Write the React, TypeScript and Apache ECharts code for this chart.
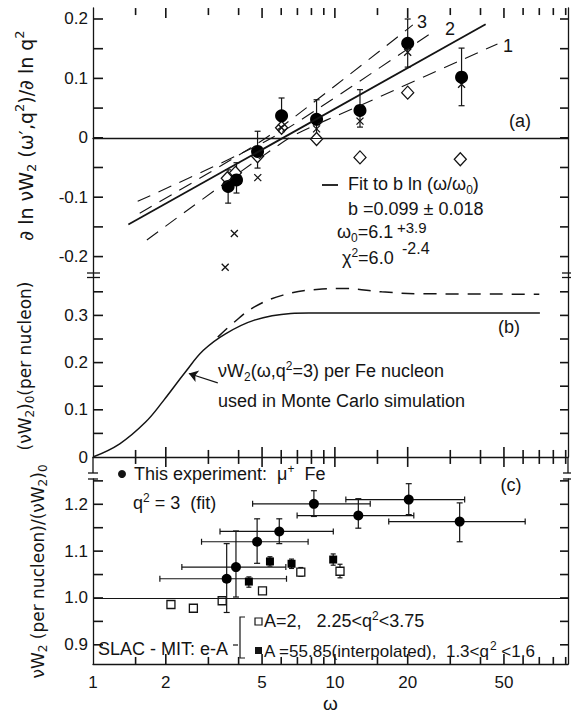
import React, { useEffect, useRef } from 'react';
import * as echarts from 'echarts';

// ---------------- data ----------------
const xTickLabels = [1, 2, 5, 10, 20, 50];
const xMajorTicks = [2, 5, 10, 20, 50];
const xMinorTicks = [1.5, 3, 4, 6, 7, 8, 9, 15, 30, 40, 60, 70, 80, 90];

const yTicksA = [-0.2, -0.15, -0.1, -0.05, 0, 0.05, 0.1, 0.15, 0.2];
const yLabelsA = [-0.2, -0.1, 0, 0.1, 0.2];
const yTicksB = [0.05, 0.1, 0.15, 0.2, 0.25, 0.3, 0.35];
const yLabelsB = [0, 0.1, 0.2, 0.3];
const yTicksC = [0.9, 0.95, 1.0, 1.05, 1.1, 1.15, 1.2, 1.25];
const yLabelsC = [0.9, 1.0, 1.1, 1.2];

// panel (a): d ln nuW2 / d ln q2
const omegaA = [3.62, 3.92, 4.79, 6.02, 8.4, 12.7, 20.0, 33.4];
const slopeMu = [-0.082, -0.071, -0.023, 0.037, 0.031, 0.046, 0.159, 0.102];
const slopeMuLow = [-0.11, -0.093, -0.051, 0.01, 0.003, 0.018, 0.119, 0.054];
const slopeMuHigh = [-0.054, -0.042, 0.011, 0.067, 0.064, 0.081, 0.2, 0.151];
const omegaDiamond = [3.59, 3.88, 4.79, 6.02, 8.4, 12.7, 20.0, 33.0];
const slopeDiamond = [-0.068, -0.059, -0.031, 0.017, -0.002, -0.033, 0.076, -0.036];
const omegaCross = [3.52, 3.84, 4.8, 6.02, 8.4, 12.7, 20.0, 33.4];
const slopeCross = [-0.218, -0.161, -0.067, 0.017, 0.015, 0.028, 0.144, 0.09];
const fitOmega = [1.4, 42];
const fitSlope = [-0.146, 0.191];
const model1Omega = [1.67, 6.5, 13, 47];
const model1Slope = [-0.172, 0.0, 0.056, 0.158];
const model2Omega = [1.53, 5.5, 26];
const model2Slope = [-0.107, 0.0, 0.181];
const model3Omega = [1.56, 5.2, 21];
const model3Slope = [-0.127, 0.0, 0.19];

// panel (b): (nuW2)_0 per nucleon
const omegaMC = [1, 1.29, 1.65, 1.96, 2.41, 2.86, 3.53, 4.65, 6.57, 7.8, 70.4];
const nuW2MC = [0, 0.028, 0.074, 0.12, 0.18, 0.226, 0.261, 0.29, 0.304, 0.305, 0.305];
const omegaAlt = [3.28, 3.78, 4.65, 6.1, 8.4, 11, 15.6, 22, 70];
const nuW2Alt = [0.254, 0.283, 0.318, 0.343, 0.355, 0.357, 0.35, 0.346, 0.345];
const arrowFrom = [3.28, 0.157];
const arrowTo = [2.49, 0.177];

// panel (c): ratio
const omegaC = [3.57, 3.9, 4.77, 5.89, 8.19, 12.5, 20.2, 32.8];
const ratioC = [1.041, 1.066, 1.12, 1.142, 1.201, 1.176, 1.21, 1.163];
const ratioCLow = [0.969, 1.002, 1.074, 1.116, 1.174, 1.149, 1.178, 1.12];
const ratioCHigh = [1.116, 1.143, 1.169, 1.169, 1.229, 1.212, 1.244, 1.203];
const omegaCLow = [1.89, 2.33, 2.81, 3.35, 4.57, 6.98, 11.1, 16.7];
const omegaCHigh = [6.31, 6.27, 7.75, 9.85, 14.0, 21.2, 34.4, 61.2];
const omegaFe = [4.41, 5.39, 6.62, 9.84];
const ratioFe = [1.035, 1.078, 1.073, 1.082];
const ratioFeLow = [1.023, 1.068, 1.063, 1.07];
const ratioFeHigh = [1.045, 1.088, 1.083, 1.094];
const omegaD = [2.1, 2.6, 3.42, 5.02, 7.23, 10.5];
const ratioD = [0.986, 0.978, 0.994, 1.015, 1.055, 1.057];
const ratioDLow = [0.986, 0.978, 0.994, 1.015, 1.046, 1.043];
const ratioDHigh = [0.986, 0.978, 0.994, 1.015, 1.065, 1.072];

// ---------------- styling ----------------
const FONT = '"Liberation Sans", Arial, sans-serif';
const TFONT = '"DejaVu Sans", "Liberation Sans", sans-serif';
const INK = '#141414';
const X_MIN = 1;
const X_MAX = 92;
const LEFT = 93;
const WIDTH = 475;
const RANGE_A = [-0.231, 0.2185];
const RANGE_B = [0, 0.3856];
const RANGE_C = [0.859, 1.254];
const TICK_MAJ = 10;
const TICK_MIN = 7;
const TICK_W = 1.6;
const NUDGE = 1e-4;

const rich = (size: number, family = FONT) => ({
  sub: { fontSize: Math.round(size * 0.68), lineHeight: Math.round(size * 0.7), verticalAlign: 'bottom', fontFamily: family, color: INK, fill: INK },
  sup: { fontSize: Math.round(size * 0.68), lineHeight: Math.round(size * 0.7), verticalAlign: 'top', fontFamily: family, color: INK, fill: INK },
});

const txt = (x: number, y: number, text: string, size = 18, align = 'left', lh = 1.3) => ({
  type: 'text',
  x,
  y,
  silent: true,
  style: {
    text,
    fill: INK,
    fontSize: size,
    fontFamily: FONT,
    lineHeight: Math.round(size * lh),
    textAlign: align,
    textVerticalAlign: 'middle',
    verticalAlign: 'middle',
    rich: rich(size),
  },
});

const seg = (x1: number, y1: number, x2: number, y2: number, w = 1.3) => ({
  type: 'line',
  silent: true,
  z: 100,
  shape: { x1, y1, x2, y2 },
  style: { stroke: INK, lineWidth: w },
});

const logX = (gridIndex: number, position: string, showLine: boolean, labels: number[] | null = null, name = '') => ({
  type: 'log',
  logBase: 10,
  gridIndex,
  position,
  min: X_MIN,
  max: X_MAX,
  name,
  nameLocation: 'middle',
  nameGap: 30,
  nameTextStyle: { fontSize: 19, fontFamily: FONT, color: INK },
  axisLine: { show: showLine, lineStyle: { color: INK, width: 1.3 } },
  axisTick: { show: false },
  axisLabel: labels
    ? { show: true, customValues: labels, margin: 10, fontSize: 17, fontFamily: FONT, color: INK, formatter: (v: number) => String(Math.round(v)) }
    : { show: false },
  splitLine: { show: false },
  minorTick: { show: false },
  minorSplitLine: { show: false },
});

const fmtY = (v: number) => (Math.abs(v) < 1e-9 ? '0' : v.toFixed(1));

const valY = (gridIndex: number, position: string, range: number[], labels: number[] | null, name = '', nameGap = 0, nameSize = 17, pad: number[] = [0, 0, 0, 0]) => ({
  type: 'value',
  gridIndex,
  position,
  min: range[0],
  max: range[1],
  name,
  nameLocation: 'middle',
  nameRotate: 90,
  nameGap,
  nameTextStyle: { fontSize: nameSize, fontFamily: TFONT, color: INK, lineHeight: Math.round(nameSize * 1.3), padding: pad, rich: rich(nameSize, TFONT) },
  axisLine: { show: true, lineStyle: { color: INK, width: 1.3 } },
  axisTick: { show: false },
  axisLabel: labels
    ? { show: true, customValues: labels, margin: 5, fontSize: 17, fontFamily: FONT, color: INK, formatter: fmtY }
    : { show: false },
  splitLine: { show: false },
});

const errorBars = (cap: number) => (params: any, api: any) => {
  const x = api.value(0);
  const y = api.value(1);
  const ylo = api.value(2);
  const yhi = api.value(3);
  const xlo = api.value(4);
  const xhi = api.value(5);
  const style = { stroke: INK, lineWidth: 1.2, fill: 'none' };
  const children: any[] = [];
  if (yhi !== ylo) {
    const a = api.coord([x, ylo]);
    const b = api.coord([x, yhi]);
    children.push({ type: 'line', shape: { x1: a[0], y1: a[1], x2: b[0], y2: b[1] }, style });
    children.push({ type: 'line', shape: { x1: a[0] - cap, y1: a[1], x2: a[0] + cap, y2: a[1] }, style });
    children.push({ type: 'line', shape: { x1: b[0] - cap, y1: b[1], x2: b[0] + cap, y2: b[1] }, style });
  }
  if (xhi !== xlo) {
    const a = api.coord([xlo, y]);
    const b = api.coord([xhi, y]);
    children.push({ type: 'line', shape: { x1: a[0], y1: a[1], x2: b[0], y2: b[1] }, style });
    children.push({ type: 'line', shape: { x1: a[0], y1: a[1] - cap, x2: a[0], y2: a[1] + cap }, style });
    children.push({ type: 'line', shape: { x1: b[0], y1: b[1] - cap, x2: b[0], y2: b[1] + cap }, style });
  }
  return { type: 'group', children };
};

// tick marks as thin rectangle symbols placed through the axes' scales
const tickMarks = (xi: number, yi: number, data: number[][], size: number[], offset: number[]) => ({
  type: 'scatter', xAxisIndex: xi, yAxisIndex: yi, data, symbol: 'rect', symbolSize: size, symbolOffset: offset,
  clip: false, silent: true, z: 5, itemStyle: { color: INK, opacity: 1 },
});
const xTickSet = (xi: number, yi: number, edge: number, dir: number) => [
  tickMarks(xi, yi, xMajorTicks.map((w) => [w, edge]), [TICK_W, TICK_MAJ], [0, (dir * TICK_MAJ) / 2]),
  tickMarks(xi, yi, xMinorTicks.map((w) => [w, edge]), [TICK_W, TICK_MIN], [0, (dir * TICK_MIN) / 2]),
];
const yTickSet = (xi: number, yi: number, ticks: number[]) => [
  tickMarks(xi, yi, ticks.map((v) => [X_MIN * (1 + NUDGE), v]), [10, TICK_W], [5, 0]),
  tickMarks(xi, yi, ticks.map((v) => [X_MAX * (1 - NUDGE), v]), [8, TICK_W], [-4, 0]),
];

const pairs = (xs: number[], ys: number[]) => xs.map((x, i) => [x, ys[i]]);
const dashed = { color: INK, width: 1.1, type: [14, 9] };

const graphicEls: any[] = [
  // axis breaks
  seg(87, 273, 100, 273), seg(87, 277.5, 100, 277.5),
  seg(562, 273, 574, 273), seg(562, 277.5, 574, 277.5),
  seg(LEFT, 457, LEFT, 473), seg(88, 473, 98, 473), seg(88, 479, 98, 479),
  seg(LEFT + WIDTH, 457, LEFT + WIDTH, 473), seg(LEFT + WIDTH - 5, 473, LEFT + WIDTH + 5, 473), seg(LEFT + WIDTH - 5, 479, LEFT + WIDTH + 5, 479),
  // panel a annotations
  txt(417, 22, '3', 18), txt(445, 29, '2', 18), txt(503, 46, '1', 18),
  txt(520, 121, '(a)', 18, 'center'),
  seg(322, 185, 338, 185, 1.8),
  txt(348, 184, 'Fit to b ln (ω/ω{sub|0})', 18),
  txt(348, 209, 'b =0.099 ± 0.018', 18, 'left', 1.0),
  txt(337, 232, 'ω{sub|0}=6.1', 18),
  txt(397, 227, '+3.9', 15, 'left', 1.0),
  txt(402, 248, '-2.4', 16, 'left', 1.0),
  txt(342, 258, 'χ{sup|2}=6.0', 18),
  // panel b annotations
  txt(509, 327, '(b)', 18, 'center'),
  txt(218, 371, 'νW{sub|2}(ω,q{sup|2}=3) per Fe nucleon', 18),
  txt(218, 401, 'used in Monte Carlo simulation', 18),
  // panel c annotations
  { type: 'circle', silent: true, shape: { cx: 122, cy: 474, r: 4 }, style: { fill: INK } },
  txt(134, 474, 'This experiment:  μ{sup|+}  Fe', 18),
  txt(133, 503, 'q{sup|2} = 3  (fit)', 18),
  txt(511, 485, '(c)', 18, 'center'),
  txt(98, 649, 'SLAC - MIT: e-A', 18),
  seg(233, 645, 238, 645, 1.2),
  { type: 'polyline', silent: true, shape: { points: [[245, 617], [240, 617], [240, 658], [245, 658]] }, style: { stroke: INK, lineWidth: 1.2, fill: 'none' } },
  { type: 'rect', silent: true, shape: { x: 255, y: 618, width: 7, height: 7 }, style: { fill: '#ffffff', stroke: INK, lineWidth: 1.2 } },
  txt(264, 621, 'A=2,   2.25<q{sup|2}<3.75', 18),
  { type: 'rect', silent: true, shape: { x: 255, y: 647, width: 7, height: 7 }, style: { fill: INK } },
  txt(264, 651, 'A =55.85(interpolated),  1.3<q{sup|2} <1.6', 17),
];

export default function App() {
  const ref = useRef<HTMLDivElement>(null);
  useEffect(() => {
    if (!ref.current) return;
    const chart = echarts.init(ref.current, null, { renderer: 'svg' });

    const option: any = {
      animation: false,
      backgroundColor: '#ffffff',
      textStyle: { fontFamily: FONT },
      grid: [
        { left: LEFT, top: 8, width: WIDTH, height: 267 },
        { left: LEFT, top: 275, width: WIDTH, height: 182 },
        { left: LEFT, top: 479, width: WIDTH, height: 193 },
      ],
      xAxis: [
        logX(0, 'top', true),
        logX(1, 'bottom', true),
        logX(2, 'bottom', true, xTickLabels, 'ω'),
      ],
      yAxis: [
        valY(0, 'left', RANGE_A, yLabelsA, '∂ ln νW{sub|2} (ω′,q{sup|2})/∂ ln q{sup|2}', 55, 19, [0, 0, 0, 12]),
        valY(0, 'right', RANGE_A, null),
        valY(1, 'left', RANGE_B, yLabelsB, '(νW{sub|2}){sub|0}(per nucleon)', 57, 17),
        valY(1, 'right', RANGE_B, null),
        valY(2, 'left', RANGE_C, yLabelsC, 'νW{sub|2} (per nucleon)/(νW{sub|2}){sub|0}', 44, 17),
        valY(2, 'right', RANGE_C, null),
      ],
      series: [
        // ---- ticks ----
        ...xTickSet(0, 0, RANGE_A[1] - NUDGE, 1),
        ...yTickSet(0, 0, yTicksA),
        ...xTickSet(1, 2, RANGE_B[0] + NUDGE, -1),
        ...xTickSet(1, 2, RANGE_B[0] + NUDGE, 1),
        ...yTickSet(1, 2, yTicksB),
        ...xTickSet(2, 4, RANGE_C[0] + NUDGE, -1),
        ...yTickSet(2, 4, yTicksC),
        // ---- panel a ----
        {
          type: 'line', xAxisIndex: 0, yAxisIndex: 0, data: pairs(fitOmega, fitSlope), showSymbol: false,
          lineStyle: { color: INK, width: 1.8 },
          markLine: { silent: true, symbol: ['none', 'none'], label: { show: false }, lineStyle: { color: INK, width: 1.1, type: 'solid' }, data: [{ yAxis: 0 }] },
        },
        { type: 'line', xAxisIndex: 0, yAxisIndex: 0, data: pairs(model1Omega, model1Slope), showSymbol: false, smooth: 0.2, lineStyle: dashed },
        { type: 'line', xAxisIndex: 0, yAxisIndex: 0, data: pairs(model2Omega, model2Slope), showSymbol: false, smooth: 0.2, lineStyle: dashed },
        { type: 'line', xAxisIndex: 0, yAxisIndex: 0, data: pairs(model3Omega, model3Slope), showSymbol: false, smooth: 0.2, lineStyle: dashed },
        { type: 'scatter', xAxisIndex: 0, yAxisIndex: 0, data: pairs(omegaDiamond, slopeDiamond), symbol: 'diamond', symbolSize: [12, 13], itemStyle: { color: '#ffffff', borderColor: INK, borderWidth: 1.3, opacity: 1 } },
        { type: 'scatter', xAxisIndex: 0, yAxisIndex: 0, data: pairs(omegaCross, slopeCross), symbol: 'path://M0,0L10,10M10,0L0,10', symbolSize: 7, itemStyle: { color: 'none', borderColor: INK, borderWidth: 1.3, opacity: 1 } },
        {
          type: 'custom', xAxisIndex: 0, yAxisIndex: 0, renderItem: errorBars(3), encode: { x: 0, y: 1 },
          data: omegaA.map((w, i) => [w, slopeMu[i], slopeMuLow[i], slopeMuHigh[i], w, w]),
        },
        { type: 'scatter', xAxisIndex: 0, yAxisIndex: 0, data: pairs(omegaA, slopeMu), symbol: 'circle', symbolSize: 13, itemStyle: { color: '#000000', opacity: 1 } },
        // ---- panel b ----
        {
          type: 'line', xAxisIndex: 1, yAxisIndex: 2, data: pairs(omegaMC, nuW2MC), showSymbol: false, smooth: 0.4,
          lineStyle: { color: INK, width: 1.5 },
          markLine: {
            silent: true, symbol: ['none', 'arrow'], symbolSize: 9, label: { show: false },
            lineStyle: { color: INK, width: 1.1, type: 'solid' },
            data: [[{ coord: arrowFrom }, { coord: arrowTo }]],
          },
        },
        { type: 'line', xAxisIndex: 1, yAxisIndex: 2, data: pairs(omegaAlt, nuW2Alt), showSymbol: false, smooth: 0.4, lineStyle: { color: INK, width: 1.5, type: [13, 9] } },
        // ---- panel c ----
        {
          type: 'custom', xAxisIndex: 2, yAxisIndex: 4, renderItem: errorBars(3), encode: { x: 0, y: 1 },
          data: omegaC.map((w, i) => [w, ratioC[i], ratioCLow[i], ratioCHigh[i], omegaCLow[i], omegaCHigh[i]]),
          markLine: { silent: true, symbol: ['none', 'none'], label: { show: false }, lineStyle: { color: INK, width: 1.1, type: 'solid' }, data: [{ yAxis: 1.0 }] },
        },
        { type: 'scatter', xAxisIndex: 2, yAxisIndex: 4, data: pairs(omegaC, ratioC), symbol: 'circle', symbolSize: 10, itemStyle: { color: '#000000', opacity: 1 } },
        {
          type: 'custom', xAxisIndex: 2, yAxisIndex: 4, renderItem: errorBars(2.5), encode: { x: 0, y: 1 },
          data: omegaFe.map((w, i) => [w, ratioFe[i], ratioFeLow[i], ratioFeHigh[i], w, w]),
        },
        { type: 'scatter', xAxisIndex: 2, yAxisIndex: 4, data: pairs(omegaFe, ratioFe), symbol: 'rect', symbolSize: 8, itemStyle: { color: '#000000', opacity: 1 } },
        {
          type: 'custom', xAxisIndex: 2, yAxisIndex: 4, renderItem: errorBars(2.5), encode: { x: 0, y: 1 },
          data: omegaD.map((w, i) => [w, ratioD[i], ratioDLow[i], ratioDHigh[i], w, w]),
        },
        { type: 'scatter', xAxisIndex: 2, yAxisIndex: 4, data: pairs(omegaD, ratioD), symbol: 'rect', symbolSize: 8, itemStyle: { color: '#ffffff', borderColor: INK, borderWidth: 1.3, opacity: 1 } },
      ],
      graphic: graphicEls,
    };

    chart.setOption(option);
    return () => chart.dispose();
  }, []);

  return <div ref={ref} style={{ position: 'absolute', left: 0, top: 0, width: 571, height: 714, background: '#fff' }} />;
}
